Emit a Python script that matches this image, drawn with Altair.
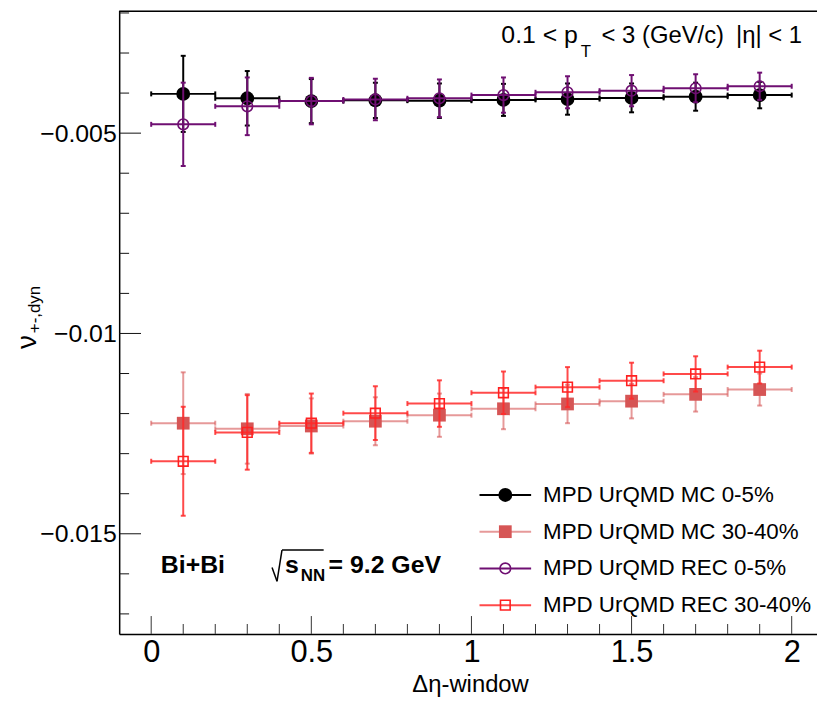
import altair as alt
import pandas as pd

# ---------------- data ----------------
eta_center = [0.1, 0.3, 0.5, 0.7, 0.9, 1.1, 1.3, 1.5, 1.7, 1.9]
eta_halfwidth = [0.1, 0.1, 0.1, 0.1, 0.1, 0.1, 0.1, 0.1, 0.1, 0.1]

mc_central = [-0.00402, -0.00413, -0.00420, -0.00418, -0.00419, -0.00417, -0.00415, -0.00412, -0.00409, -0.00405]
mc_central_err = [0.00095, 0.00068, 0.00055, 0.00044, 0.00043, 0.00040, 0.00039, 0.00036, 0.00035, 0.00033]

mc_peripheral = [-0.01224, -0.01238, -0.01231, -0.01219, -0.01204, -0.01188, -0.01176, -0.01169, -0.01152, -0.01140]
mc_peripheral_err = [0.00127, 0.00087, 0.00069, 0.00060, 0.00054, 0.00051, 0.00048, 0.00043, 0.00043, 0.00040]

rec_central = [-0.00478, -0.00433, -0.00420, -0.00416, -0.00413, -0.00405, -0.00398, -0.00394, -0.00388, -0.00383]
rec_central_err = [0.00104, 0.00072, 0.00058, 0.00052, 0.00047, 0.00044, 0.00040, 0.00039, 0.00035, 0.00034]

rec_peripheral = [-0.01319, -0.01247, -0.01224, -0.01199, -0.01175, -0.01148, -0.01134, -0.01118, -0.01101, -0.01084]
rec_peripheral_err = [0.00136, 0.00093, 0.00074, 0.00067, 0.00058, 0.00053, 0.00050, 0.00045, 0.00044, 0.00041]

series_labels = ["MPD UrQMD MC 0-5%", "MPD UrQMD MC 30-40%",
                 "MPD UrQMD REC 0-5%", "MPD UrQMD REC 30-40%"]

x_major_ticks = [0, 0.5, 1, 1.5, 2]
x_minor_ticks = [0.1, 0.2, 0.3, 0.4, 0.6, 0.7, 0.8, 0.9, 1.1, 1.2, 1.3, 1.4, 1.6, 1.7, 1.8, 1.9]
y_major_ticks = [-0.005, -0.01, -0.015]
y_minor_ticks = [-0.002, -0.003, -0.004, -0.006, -0.007, -0.008, -0.009,
                 -0.011, -0.012, -0.013, -0.014, -0.016, -0.017]

# ---------------- layout / style ----------------
W, H = 703, 628
FONT = "Liberation Sans"

XS = alt.Scale(domain=[-0.1, 2.079], nice=False, zero=False)
YS = alt.Scale(domain=[-0.0175, -0.00194], nice=False, zero=False)
XAX = alt.Axis(values=x_major_ticks, format="~g", title=None, grid=False,
               tickSize=0, labelPadding=4, labelFontSize=31, labelFont=FONT,
               labelColor="black", domainColor="black", domainWidth=1.5,
               labelFlush=False, labelOverlap=False)
YAX = alt.Axis(values=y_major_ticks, format=".3~f", title=None, grid=False,
               tickSize=0, labelPadding=3, labelFontSize=25, labelFont=FONT,
               labelColor="black", domainColor="black", domainWidth=1.5,
               labelFlush=False, labelOverlap=False)


def X(f):
    return alt.X(f + ":Q", scale=XS, axis=XAX)


def Y(f):
    return alt.Y(f + ":Q", scale=YS, axis=YAX)


styles = [
    dict(vals=mc_central, errs=mc_central_err, color="#000000", line_color="#000000",
         line_op=1.0, shape="circle", filled=True, size=195, sw=2),
    dict(vals=mc_peripheral, errs=mc_peripheral_err, color="#d65555", line_color="#d65555",
         line_op=0.6, shape="square", filled=True, size=165, sw=2),
    dict(vals=rec_central, errs=rec_central_err, color="#6f0f72", line_color="#6f0f72",
         line_op=1.0, shape="circle", filled=False, size=115, sw=2),
    dict(vals=rec_peripheral, errs=rec_peripheral_err, color="#ff2020", line_color="#ff2a2a",
         line_op=0.85, shape="square", filled=False, size=95, sw=2),
]

layers = []

# inner ticks (ROOT style)
layers.append(alt.Chart(pd.DataFrame({"v": x_major_ticks})).mark_rule(color="#333333", strokeWidth=1)
              .encode(x=X("v"), y=alt.value(H), y2=alt.value(H - 18)))
layers.append(alt.Chart(pd.DataFrame({"v": x_minor_ticks})).mark_rule(color="#333333", strokeWidth=1)
              .encode(x=X("v"), y=alt.value(H), y2=alt.value(H - 10)))
layers.append(alt.Chart(pd.DataFrame({"v": y_major_ticks})).mark_rule(color="#111111", strokeWidth=1)
              .encode(y=Y("v"), x=alt.value(0), x2=alt.value(22)))
layers.append(alt.Chart(pd.DataFrame({"v": y_minor_ticks})).mark_rule(color="#111111", strokeWidth=1)
              .encode(y=Y("v"), x=alt.value(0), x2=alt.value(10)))

# top frame line
layers.append(alt.Chart(pd.DataFrame({"a": [0]})).mark_rule(color="black", strokeWidth=1.5)
              .encode(x=alt.value(0), x2=alt.value(W), y=alt.value(0.75)))

for st in styles:
    df = pd.DataFrame({
        "x": eta_center,
        "xlo": [c - h for c, h in zip(eta_center, eta_halfwidth)],
        "xhi": [c + h for c, h in zip(eta_center, eta_halfwidth)],
        "y": st["vals"],
        "ylo": [v - e for v, e in zip(st["vals"], st["errs"])],
        "yhi": [v + e for v, e in zip(st["vals"], st["errs"])],
    })
    base = alt.Chart(df)
    lc, lo, sw = st["line_color"], st["line_op"], st["sw"]
    layers.append(base.mark_rule(color=lc, opacity=lo, strokeWidth=sw)
                  .encode(x=X("xlo"), x2="xhi:Q", y=Y("y")))
    layers.append(base.mark_rule(color=lc, opacity=lo, strokeWidth=sw)
                  .encode(x=X("x"), y=Y("ylo"), y2="yhi:Q"))
    layers.append(base.transform_fold(["ylo", "yhi"], as_=["k", "yc"])
                  .mark_tick(orient="horizontal", size=5, thickness=2, color=lc, opacity=lo)
                  .encode(x=X("x"), y=Y("yc")))
    layers.append(base.transform_fold(["xlo", "xhi"], as_=["k", "xc"])
                  .mark_tick(orient="vertical", size=5, thickness=2, color=lc, opacity=lo)
                  .encode(x=X("xc"), y=Y("y")))
    layers.append(base.mark_point(shape=st["shape"], filled=st["filled"], size=st["size"],
                                  color=st["color"], opacity=1, strokeWidth=1.6)
                  .encode(x=X("x"), y=Y("y")))

# legend (manual, ROOT TLegend look)
for i, (st, lab) in enumerate(zip(styles, series_labels)):
    ly = 488 + 37 * i
    one = alt.Chart(pd.DataFrame({"a": [0]}))
    layers.append(one.mark_rule(color=st["line_color"], opacity=st["line_op"], strokeWidth=2)
                  .encode(x=alt.value(363), x2=alt.value(415), y=alt.value(ly)))
    layers.append(one.mark_point(shape=st["shape"], filled=st["filled"], size=st["size"],
                                 color=st["color"], opacity=1, strokeWidth=1.6)
                  .encode(x=alt.value(389), y=alt.value(ly)))
    layers.append(one.mark_text(text=lab, font=FONT, fontSize=22.5, align="left",
                                baseline="middle", color="black")
                  .encode(x=alt.value(427), y=alt.value(ly)))


def txt(text, x, y, size, bold=False, align="left", angle=0, baseline="alphabetic"):
    kw = dict(text=text, font=FONT, fontSize=size, align=align, baseline=baseline, color="black")
    if bold:
        kw["fontWeight"] = "bold"
    if angle:
        kw["angle"] = angle
    return alt.Chart(pd.DataFrame({"a": [0]})).mark_text(**kw).encode(x=alt.value(x), y=alt.value(y))


def seg(x1, y1, x2, y2, w=1.5):
    return alt.Chart(pd.DataFrame({"a": [0]})).mark_rule(color="black", strokeWidth=w).encode(
        x=alt.value(x1), y=alt.value(y1), x2=alt.value(x2), y2=alt.value(y2))


# top-right kinematic text
layers.append(txt("0.1 < p", 385, 32.7, 25))
layers.append(txt("T", 465, 47, 17))
layers.append(txt("< 3 (GeV/c)", 486, 32.7, 24))
layers.append(txt("|η| < 1", 688, 32.7, 24, align="right"))

# system text
layers.append(txt("Bi+Bi", 42, 567, 25, bold=True))
layers.append(seg(154, 561, 159, 575))
layers.append(seg(159, 575, 164, 543.5))
layers.append(seg(164, 543.5, 206, 543.5))
layers.append(txt("s", 167, 567, 25, bold=True))
layers.append(txt("NN", 183, 575, 17, bold=True))
layers.append(txt("= 9.2 GeV", 211, 567, 25, bold=True))

# axis titles
layers.append(txt("Δη-window", 354, 686, 24, align="center"))
layers.append(txt("ν", -84, 334, 28, align="center", angle=270))
layers.append(txt("+-,dyn", -80, 325, 17, align="left", angle=270))

chart = (
    alt.layer(*layers)
    .properties(width=W, height=H, autosize="none",
                padding={"left": 112, "top": 0, "right": 0, "bottom": 65})
    .configure_view(stroke=None)
    .configure(background="white")
)

chart.save("out.html", embed_options={"renderer": "svg", "actions": False})
